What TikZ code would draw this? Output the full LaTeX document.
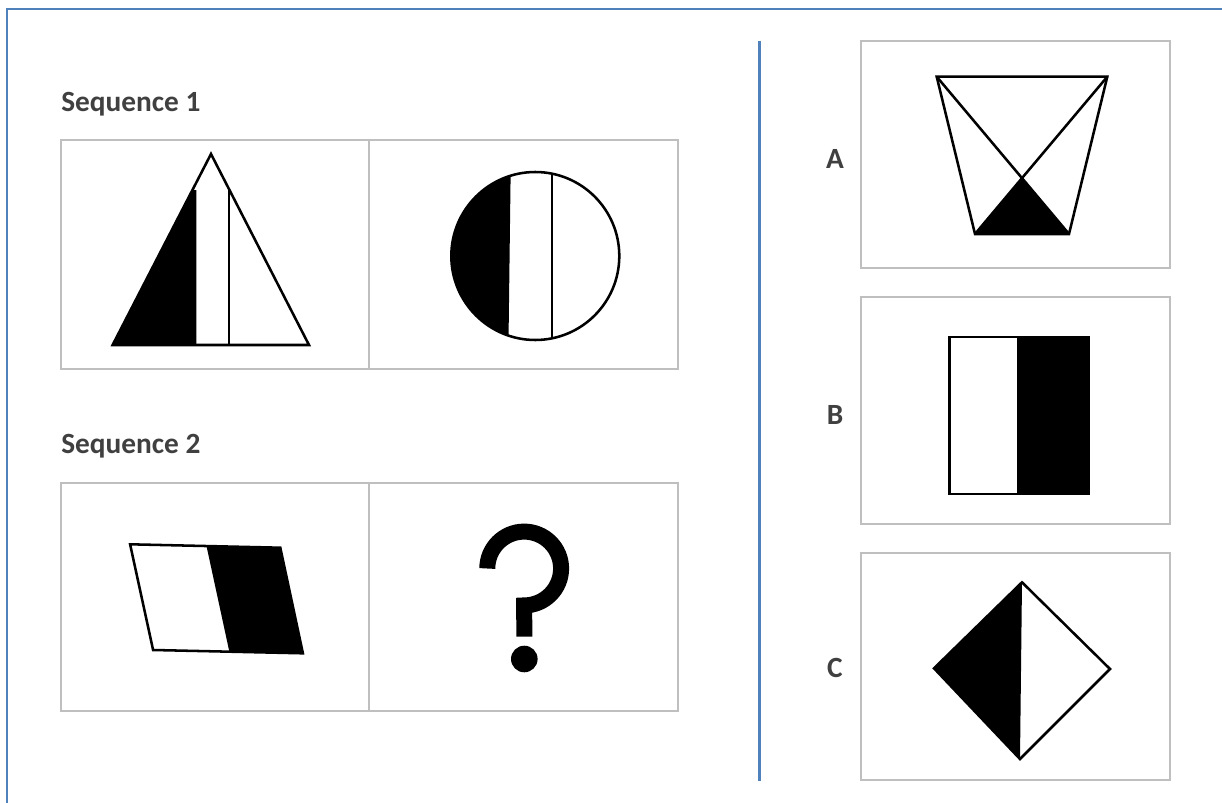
\documentclass[tikz,border=0pt]{standalone}
\usepackage{fontspec}
\setmainfont{Carlito}
\definecolor{blueframe}{HTML}{4F81BD}
\definecolor{cellgray}{HTML}{BFBFBF}
\definecolor{labelgray}{HTML}{404040}
\begin{document}
\begin{tikzpicture}[x=0.75pt,y=-0.75pt,
  frameline/.style={draw=blueframe, line width=1.8pt},
  cell/.style={draw=cellgray, line width=1.9pt},
  figline/.style={draw=black, line width=1.9pt, line join=miter},
  lbl/.style={text=labelgray, font=\fontsize{22}{26}\selectfont\bfseries, inner sep=0pt}]
\useasboundingbox[fill=white] (0,0) rectangle (1222,803);

% outer frame and divider
\draw[frameline] (7,803) -- (7,9) -- (1222,9);
\draw[frameline] (759.5,40.5) -- (759.5,780.5);

% labels
\node[lbl, anchor=base west] (seq1) at (61,111) {Sequence 1};
\node[lbl, anchor=base west] (seq2) at (61,453) {Sequence 2};
\node[lbl, anchor=base] (la) at (835,168) {A};
\node[lbl, anchor=base] (lb) at (835,424) {B};
\node[lbl, anchor=base] (lc) at (835,677) {C};

% cells
\draw[cell] (61,140) rectangle (369,369);
\draw[cell] (369,140) rectangle (678,369);
\draw[cell] (61,483) rectangle (369,711);
\draw[cell] (369,483) rectangle (678,711);
\draw[cell] (861,41) rectangle (1170,268);
\draw[cell] (861,297) rectangle (1170,524);
\draw[cell] (861,553) rectangle (1170,780);

% triangle
\fill[black] (112.6,345) -- (192.5,190) -- (196.4,190) -- (196.4,345) -- cycle;
\draw[figline] (112.6,345) -- (211,154) -- (309,345) -- cycle;
\draw[figline] (229,189) -- (229,345);

% circle
\begin{scope}
  \clip (535.3,256) circle (84);
  \fill[black] (440,160) -- (510.8,160) -- (508.4,350) -- (440,350) -- cycle;
\end{scope}
\draw[figline] (535.3,256) circle (84);
\draw[figline] (552,173.7) -- (552,338.3);

% parallelogram
\fill[black] (206.6,546.5) -- (280.3,547.7) -- (302.9,653.3) -- (229.2,651) -- cycle;
\draw[figline] (130.1,544.3) -- (280.3,547.7) -- (302.9,653.3) -- (153.1,650) -- cycle;

% question mark
\draw[black, line width=12pt, line cap=butt] (487.3,568.5) arc (180:450:36.9) -- (524.3,636.7);
\fill[black] (524.3,659) circle (13.3);

% A: trapezoid
\fill[black] (1022.3,178.4) -- (1069,234) -- (975,234) -- cycle;
\draw[figline] (936.7,76.7) -- (1107.3,76.7) -- (1069,234) -- (975,234) -- cycle;
\draw[figline] (936.7,76.7) -- (1069,234);
\draw[figline] (1107.3,76.7) -- (975,234);

% B: rectangle
\fill[black] (1016.7,337) rectangle (1088.7,494);
\draw[figline] (949.3,337) rectangle (1088.7,494);

% C: diamond
\fill[black] (1022,582.3) -- (934,668.3) -- (1020,759) -- cycle;
\draw[figline] (1022,582.3) -- (1110,669) -- (1020,759) -- (934,668.3) -- cycle;
\end{tikzpicture}
\end{document}
